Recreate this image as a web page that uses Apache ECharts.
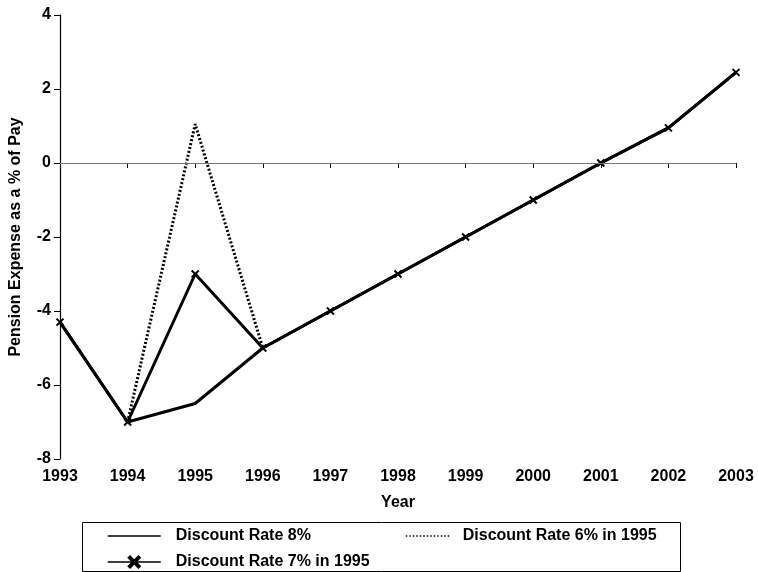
<!DOCTYPE html>
<html>
<head>
<meta charset="utf-8">
<script src="https://cdn.jsdelivr.net/npm/echarts@6/dist/echarts.min.js"></script>
<style>html,body{margin:0;padding:0;background:#fff}#c{width:758px;height:572px}</style>
</head>
<body>
<div id="c"></div>
<script>
var years = ['1993','1994','1995','1996','1997','1998','1999','2000','2001','2002','2003'];
var rate8 = [-4.3, -7, -6.5, -5, -4, -3, -2, -1, 0, 0.95, 2.45];
var rate7in1995 = [-4.3, -7, -3, -5, -4, -3, -2, -1, 0, 0.95, 2.45];
var rate6in1995 = [null, -7, 1.05, -5, null, null, null, null, null, null, null];
var yTicks = [-8, -6, -4, -2, 0, 2, 4];

var FONT = '"Liberation Sans", Arial, sans-serif';
var X_PATH = 'path://M0,0L10,10M10,0L0,10';
var chart = echarts.init(document.getElementById('c'));
var txt = {fontFamily: FONT, fontSize: 16, color: '#000', fontWeight: 'bold'};
chart.setOption({
  animation: false,
  backgroundColor: '#fff',
  grid: {left: 56, right: 22, top: 15, bottom: 113, containLabel: false},
  xAxis: {
    type: 'category', data: years, boundaryGap: false,
    name: 'Year', nameLocation: 'middle', nameGap: 36,
    nameTextStyle: txt,
    axisLine: {lineStyle: {color: '#000', width: 1.2}},
    axisTick: {length: 5, lineStyle: {color: '#000'}},
    axisLabel: Object.assign({margin: 10}, txt),
    splitLine: {show: false}
  },
  yAxis: {
    type: 'value', min: yTicks[0], max: yTicks[yTicks.length-1], interval: 2,
    name: 'Pension Expense as a % of Pay', nameLocation: 'middle', nameGap: 36,
    nameTextStyle: txt,
    axisLine: {show: true, lineStyle: {color: '#000', width: 1.2}},
    axisTick: {show: true, length: 6, lineStyle: {color: '#000'}},
    axisLabel: Object.assign({margin: 9}, txt),
    splitLine: {show: false}
  },
  legend: [
    {data: ['Discount Rate 8%'], left: 102, top: 523, itemWidth: 53, itemHeight: 14,
     itemStyle: {opacity: 0}, lineStyle: {width: 1.5},
     textStyle: Object.assign({padding: [0,0,0,10]}, txt)},
    {data: ['Discount Rate 6% in 1995'], left: 400, top: 523, itemWidth: 45, itemHeight: 14,
     itemStyle: {opacity: 0}, lineStyle: {width: 1.5, type: [1.5, 2]},
     textStyle: Object.assign({padding: [0,0,0,7]}, txt)},
    {data: ['Discount Rate 7% in 1995'], left: 102, top: 549, itemWidth: 53, itemHeight: 14,
     itemStyle: {borderWidth: 4}, lineStyle: {width: 1.5},
     textStyle: Object.assign({padding: [0,0,0,10]}, txt)}
  ],
  graphic: [{
    type: 'rect', left: 80, top: 520, silent: true,
    shape: {width: 598, height: 49},
    style: {fill: 'none', stroke: '#000', lineWidth: 1}
  }],
  series: [
    {
      name: 'Discount Rate 8%', type: 'line', data: rate8,
      symbol: 'none', lineStyle: {color: '#000', width: 3}, itemStyle: {color: '#000'},
      markLine: {silent: true, symbol: 'none', label: {show: false},
        lineStyle: {color: '#777', width: 1, type: 'solid'}, data: [{yAxis: 0}]}
    },
    {
      name: 'Discount Rate 6% in 1995', type: 'line', data: rate6in1995,
      symbol: 'none', connectNulls: false,
      lineStyle: {color: '#000', width: 3, type: [2, 2]}, itemStyle: {color: '#000'}
    },
    {
      name: 'Discount Rate 7% in 1995', type: 'line', data: rate7in1995,
      symbol: X_PATH, symbolSize: 7, showSymbol: true,
      lineStyle: {color: '#000', width: 3},
      itemStyle: {color: '#000', borderColor: '#000', borderWidth: 2}
    }
  ]
});
</script>
</body>
</html>
